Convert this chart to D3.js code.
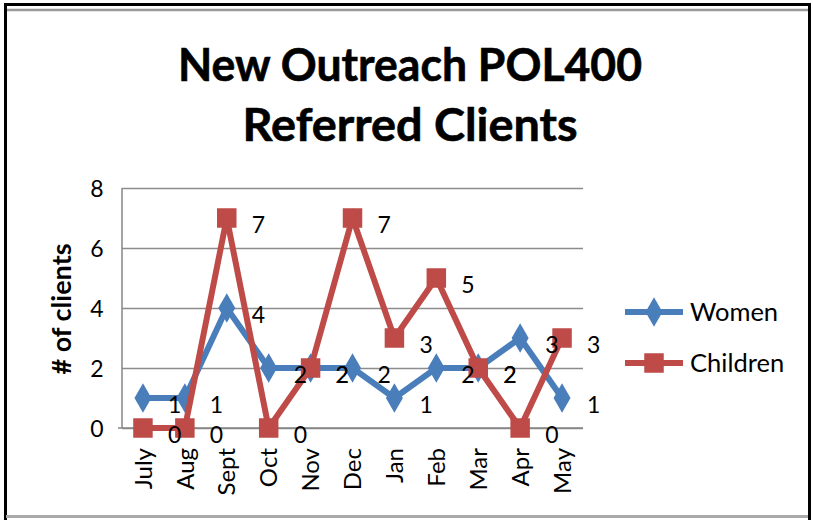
<!DOCTYPE html>
<html>
<head>
<meta charset="utf-8">
<script src="https://cdn.jsdelivr.net/npm/d3@7"></script>
<style>
  html, body { margin: 0; padding: 0; background: #fff; }
  svg { display: block; }
  text { font-family: Lato, "Open Sans", sans-serif; fill: #000; }
</style>
</head>
<body>
<svg id="chart" width="813" height="520"></svg>
<script>
const months = ["July","Aug","Sept","Oct","Nov","Dec","Jan","Feb","Mar","Apr","May"];
const women = [1,1,4,2,2,2,1,2,2,3,1];
const children = [0,0,7,0,2,7,3,5,2,0,3];
const yTicks = [0,2,4,6,8];
const titleLines = ["New Outreach POL400","Referred Clients"];
const yTitle = "# of clients";
const seriesNames = ["Women","Children"];

const colors = { Women: "#4a7ebb", Children: "#be4b48" };
const svg = d3.select("#chart");

// frame
svg.append("rect").attr("x",0).attr("y",0).attr("width",813).attr("height",520).attr("fill","#fff");
svg.append("line").attr("x1",4).attr("x2",811).attr("y1",4.5).attr("y2",4.5).attr("stroke","#000").attr("stroke-width",3);
svg.append("line").attr("x1",6).attr("x2",808).attr("y1",10).attr("y2",10).attr("stroke","#9a9a9a").attr("stroke-width",2.5);
svg.append("line").attr("x1",5.5).attr("x2",5.5).attr("y1",3).attr("y2",520).attr("stroke","#000").attr("stroke-width",3);
svg.append("line").attr("x1",809.5).attr("x2",809.5).attr("y1",3).attr("y2",520).attr("stroke","#000").attr("stroke-width",3);
svg.append("line").attr("x1",6).attr("x2",808).attr("y1",516.5).attr("y2",516.5).attr("stroke","#aaa").attr("stroke-width",3);

// title
const title = svg.append("text").attr("text-anchor","middle").attr("font-weight","bold").attr("font-size",45)
  .attr("stroke","#000").attr("stroke-width",0.6);
title.append("tspan").attr("x",410).attr("y",81).text(titleLines[0]).attr("textLength",464).attr("lengthAdjust","spacingAndGlyphs");
title.append("tspan").attr("x",410).attr("y",141).text(titleLines[1]).attr("textLength",335).attr("lengthAdjust","spacingAndGlyphs");

const L = 122, R = 583, T = 188, B = 428;
const x = d3.scaleBand().domain(months).range([L,R]);
const y = d3.scaleLinear().domain([0,8]).range([B,T]);
const cx = m => x(m) + x.bandwidth()/2;

// gridlines + y axis
const yAxis = d3.axisLeft(y).tickValues(yTicks).tickSize(-(R-L)).tickPadding(25).tickFormat(d3.format("d"));
const gy = svg.append("g").attr("transform",`translate(${L},0)`).call(yAxis);
gy.select(".domain").attr("stroke","#868686").attr("stroke-width",1.5).attr("d",`M0,${T}V${B}`);
gy.selectAll(".tick line").attr("stroke","#8c8c8c").attr("stroke-width",1.5);
gy.selectAll(".tick text").attr("font-size",23).attr("font-family","Lato").attr("fill","#000")
  .attr("text-anchor","middle").attr("dy","0.38em");

// x axis
const xAxis = d3.axisBottom(x).tickSize(0).tickPadding(0);
const gx = svg.append("g").attr("transform",`translate(0,${B})`).call(xAxis);
gx.select(".domain").attr("stroke","#868686").attr("stroke-width",1.5).attr("d",`M${L-4},0H${R}`);
gx.selectAll(".tick text")
  .attr("font-size",24).attr("font-family","Lato").attr("fill","#000")
  .attr("text-anchor","end").attr("transform","rotate(-90)")
  .attr("x",-20).attr("y",0).attr("dy","0.36em");

// y title
svg.append("text").attr("transform",`translate(71,309) rotate(-90)`)
  .attr("text-anchor","middle").attr("font-weight","bold").attr("font-size",27).text(yTitle);

// series
const data = { Women: women, Children: children };
const line = d3.line().x((d,i)=>cx(months[i])).y(d=>y(d));
const diamond = d3.symbol().type(d3.symbolDiamond).size(250);
const square = d3.symbol().type(d3.symbolSquare).size(380);

seriesNames.forEach(name => {
  const vals = data[name];
  const g = svg.append("g");
  g.append("path").datum(vals).attr("d",line).attr("fill","none")
    .attr("stroke",colors[name]).attr("stroke-width",6).attr("stroke-linejoin","miter");
  g.selectAll("path.m").data(vals).enter().append("path").attr("class","m")
    .attr("transform",(d,i)=>`translate(${cx(months[i])},${y(d)})`)
    .attr("d", name==="Women" ? diamond : square)
    .attr("fill",colors[name]);
});

// data labels
seriesNames.forEach(name => {
  const vals = data[name];
  svg.append("g").selectAll("text").data(vals).enter().append("text")
    .attr("x",(d,i)=>cx(months[i]) + 25)
    .attr("y",d=>y(d) + 15)
    .attr("font-size",23)
    .text(d=>d);
});

// legend
const legY = [312, 363];
seriesNames.forEach((name,i) => {
  const g = svg.append("g");
  g.append("line").attr("x1",625).attr("x2",683).attr("y1",legY[i]).attr("y2",legY[i])
    .attr("stroke",colors[name]).attr("stroke-width",6);
  g.append("path").attr("transform",`translate(654,${legY[i]})`)
    .attr("d", name==="Women" ? diamond : square).attr("fill",colors[name]);
  g.append("text").attr("x",690).attr("y",legY[i]+9).attr("font-size",25.5).text(name);
});
</script>
</body>
</html>
